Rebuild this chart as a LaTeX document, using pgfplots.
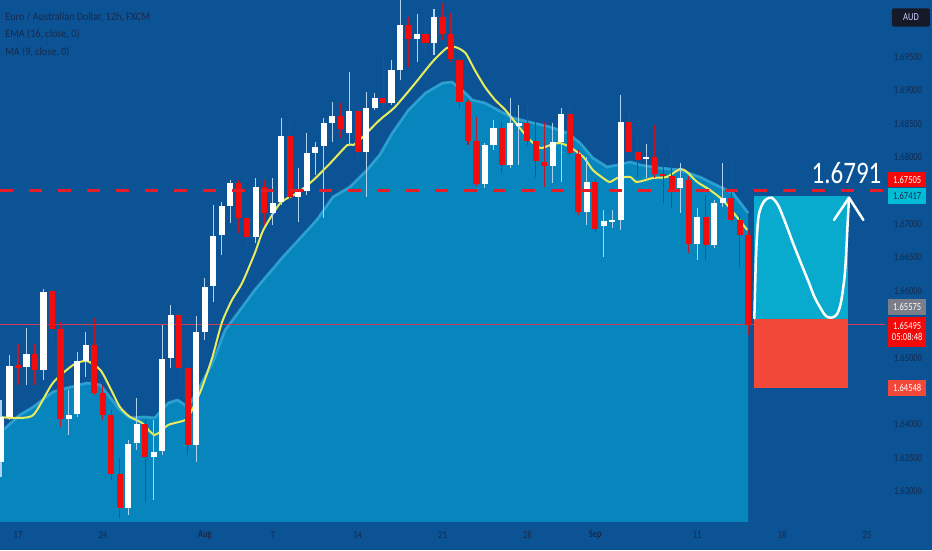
\documentclass[border=0pt]{standalone}
\usepackage{fontspec}
\setmainfont{Carlito}
\usepackage{graphicx}
\usepackage{pgfplots}
\usepackage{pgfplotstable}
\pgfplotsset{compat=1.18}

\definecolor{bg}{RGB}{11,83,148}
\definecolor{areablue}{RGB}{6,134,188}
\definecolor{areaedge}{RGB}{52,168,216}
\definecolor{candlered}{RGB}{242,12,12}
\definecolor{wickred}{RGB}{190,25,40}
\definecolor{wickwhite}{RGB}{175,210,238}
\definecolor{emayellow}{RGB}{232,236,92}
\definecolor{dashred}{RGB}{230,28,38}
\definecolor{thinred}{RGB}{205,60,85}
\definecolor{boxcyan}{RGB}{8,170,205}
\definecolor{boxcoral}{RGB}{242,72,58}
\definecolor{lblred}{RGB}{245,8,8}
\definecolor{lblcyan}{RGB}{0,188,212}
\definecolor{lblgrey}{RGB}{122,126,136}
\definecolor{audbox}{RGB}{22,26,40}
\definecolor{ticktext}{RGB}{22,42,78}

\newcommand{\sq}[2][0.8]{\scalebox{#1}[1]{#2}}

% 12h candles, x = bar number
\pgfplotstableread{
i o h l c
0 1.63441 1.64365 1.63212 1.64115
1 1.64115 1.65039 1.64066 1.64879
3 1.64855 1.65443 1.64590 1.65049
5 1.64814 1.66027 1.64664 1.65986
8 1.64085 1.64515 1.63841 1.64141
9 1.64151 1.65088 1.64115 1.64949
10 1.64954 1.65388 1.64714 1.65184
15 1.62744 1.63766 1.62644 1.63706
16 1.63717 1.64391 1.63617 1.64006
18 1.63516 1.64066 1.62868 1.63591
19 1.63602 1.65488 1.63542 1.64979
20 1.64989 1.65787 1.64840 1.65638
23 1.63691 1.65627 1.63441 1.65379
24 1.65388 1.66187 1.65263 1.66061
25 1.66072 1.67284 1.65837 1.66820
26 1.66835 1.67334 1.66536 1.67269
27 1.67274 1.67658 1.67010 1.67609
30 1.66813 1.67684 1.66711 1.67558
32 1.67169 1.67684 1.66985 1.67319
33 1.67334 1.68582 1.67284 1.68317
35 1.67399 1.67834 1.67034 1.67483
36 1.67498 1.68367 1.67434 1.68058
37 1.68067 1.68232 1.67733 1.68157
38 1.68167 1.68587 1.67085 1.68507
39 1.68516 1.68831 1.68232 1.68617
41 1.68367 1.69280 1.68182 1.68696
43 1.68082 1.68980 1.67408 1.68732
44 1.68741 1.68965 1.68706 1.68882
46 1.68807 1.69455 1.68781 1.69305
47 1.69305 1.70400 1.69155 1.69979
49 1.69765 1.70143 1.69429 1.69840
51 1.69705 1.70214 1.69530 1.70103
57 1.67599 1.68212 1.67534 1.68182
58 1.68182 1.68557 1.68108 1.68441
60 1.67883 1.68881 1.67838 1.68516
61 1.68471 1.68781 1.67883 1.68516
65 1.67868 1.68507 1.67609 1.68223
66 1.68232 1.68732 1.67633 1.68646
69 1.67184 1.68007 1.66985 1.67624
71 1.66974 1.67209 1.66510 1.67049
72 1.67037 1.67209 1.66940 1.67060
73 1.67060 1.68931 1.66910 1.68531
76 1.67968 1.68197 1.67684 1.68007
80 1.67534 1.67908 1.67160 1.67688
82 1.66700 1.67235 1.66461 1.67100
84 1.66685 1.67359 1.66640 1.67310
85 1.67319 1.67917 1.67259 1.67384
}\up

\pgfplotstableread{
i o h l c
2 1.64882 1.65203 1.64590 1.64849
4 1.65049 1.65203 1.64590 1.64814
6 1.65997 1.66012 1.65188 1.65423
7 1.65423 1.65537 1.63965 1.64085
11 1.65184 1.65588 1.64440 1.64474
12 1.64474 1.64590 1.64066 1.64136
13 1.64136 1.64215 1.63167 1.63257
14 1.63257 1.63497 1.62599 1.62744
17 1.64006 1.64066 1.62823 1.63516
21 1.65638 1.65712 1.64664 1.64840
22 1.64840 1.64964 1.63542 1.63691
28 1.67609 1.67658 1.66865 1.67085
29 1.67085 1.67135 1.66685 1.66810
31 1.67558 1.67658 1.66985 1.67169
34 1.68317 1.68546 1.67359 1.67399
40 1.68621 1.68807 1.68283 1.68417
42 1.68696 1.68736 1.67983 1.68082
45 1.68882 1.69530 1.68706 1.68807
48 1.69979 1.70099 1.69355 1.69765
50 1.69840 1.70054 1.69504 1.69705
52 1.70103 1.70308 1.69754 1.69840
53 1.69840 1.70154 1.69425 1.69465
54 1.69455 1.69485 1.68732 1.68831
55 1.68831 1.68856 1.68182 1.68247
56 1.68247 1.68606 1.67569 1.67599
59 1.68441 1.68531 1.67759 1.67883
62 1.68516 1.68807 1.68182 1.68247
63 1.68247 1.68531 1.67708 1.67947
64 1.67932 1.68531 1.67558 1.67868
67 1.68646 1.68781 1.68033 1.68067
68 1.68048 1.68108 1.67135 1.67184
70 1.67624 1.67688 1.66880 1.66920
74 1.68531 1.68736 1.68033 1.68082
75 1.68082 1.68332 1.67708 1.67958
77 1.68007 1.68482 1.67688 1.67744
78 1.67744 1.67932 1.67310 1.67718
79 1.67723 1.68133 1.67235 1.67524
81 1.67658 1.67718 1.66561 1.66700
83 1.67109 1.67434 1.66461 1.66685
86 1.67384 1.67958 1.67030 1.67060
87 1.67060 1.67135 1.66361 1.66835
88 1.66835 1.66910 1.65338 1.65495
}\down

\begin{document}
\begin{tikzpicture}
\fill[bg] (0,0) rectangle (699pt,412.5pt);
\begin{axis}[
  at={(0pt,21.4pt)}, anchor=south west,
  scale only axis, width=663.75pt, height=391.1pt,
  xmin=-0.12, xmax=104.12, ymin=1.62546, ymax=1.70353,
  clip mode=individual,
  axis line style={draw=none},
  major tick length=0pt,
  xtick={2,12,24,32,42,52,62,70,82,92,102},
  xticklabels={\sq{17},\sq{24},\sq{\bfseries Aug},\sq{7},\sq{14},\sq{21},\sq{28},\sq{\bfseries Sep},\sq{11},\sq{18},\sq{25}},
  xticklabel style={anchor=center, yshift=-10.1pt, inner sep=0pt, text=ticktext, font=\fontsize{8}{9}\selectfont},
  ytick={1.630,1.635,1.640,1.650,1.660,1.665,1.670,1.680,1.685,1.690,1.695},
  yticklabels={\sq{1.63000},\sq{1.63500},\sq{1.64000},\sq{1.65000},\sq{1.66000},\sq{1.66500},\sq{1.67000},\sq{1.68000},\sq{1.68500},\sq{1.69000},\sq{1.69500}},
  yticklabel pos=right,
  yticklabel style={anchor=center, xshift=17.25pt, inner sep=0pt, text=ticktext, font=\fontsize{8}{9}\selectfont},
]

% shaded area under the averages
\addplot[fill=areablue, draw=none] coordinates {
(-0.12,1.62) (-0.12,1.63871) (2.2,1.64140) (3.8,1.64260) (6.1,1.64485) (7.8,1.64545)
(10.1,1.64619) (11.7,1.64590) (12.8,1.64410) (14.0,1.64215) (15.2,1.64096) (16.9,1.64111)
(18.1,1.64096) (19.7,1.64320) (20.8,1.64365) (22.0,1.64260) (23.2,1.64515) (24.9,1.64919)
(26.4,1.65413) (27.9,1.65667) (29.9,1.66012) (33.2,1.66506) (37.2,1.67060) (39.1,1.67404)
(41.1,1.67554) (43.1,1.67808) (44.6,1.68033) (46.1,1.68362) (48.0,1.68706) (50.0,1.68961)
(52.0,1.69110) (53.1,1.69125) (54.3,1.69006) (55.5,1.68856) (57.0,1.68811) (59.4,1.68646)
(60.3,1.68587) (62.7,1.68512) (64.7,1.68452) (66.7,1.68362) (68.2,1.68212) (69.7,1.67988)
(71.4,1.67853) (72.6,1.67883) (74.1,1.67928) (75.3,1.67883) (77.6,1.67838) (80.0,1.67808)
(82.3,1.67703) (84.7,1.67554) (86.2,1.67464) (88,1.67164) (88,1.62)} -- cycle;
\addplot[areaedge, line width=2pt, opacity=0.85, line join=round] coordinates {
(-0.12,1.63871) (2.2,1.64140) (3.8,1.64260) (6.1,1.64485) (7.8,1.64545)
(10.1,1.64619) (11.7,1.64590) (12.8,1.64410) (14.0,1.64215) (15.2,1.64096) (16.9,1.64111)
(18.1,1.64096) (19.7,1.64320) (20.8,1.64365) (22.0,1.64260) (23.2,1.64515) (24.9,1.64919)
(26.4,1.65413) (27.9,1.65667) (29.9,1.66012) (33.2,1.66506) (37.2,1.67060) (39.1,1.67404)
(41.1,1.67554) (43.1,1.67808) (44.6,1.68033) (46.1,1.68362) (48.0,1.68706) (50.0,1.68961)
(52.0,1.69110) (53.1,1.69125) (54.3,1.69006) (55.5,1.68856) (57.0,1.68811) (59.4,1.68646)
(60.3,1.68587) (62.7,1.68512) (64.7,1.68452) (66.7,1.68362) (68.2,1.68212) (69.7,1.67988)
(71.4,1.67853) (72.6,1.67883) (74.1,1.67928) (75.3,1.67883) (77.6,1.67838) (80.0,1.67808)
(82.3,1.67703) (84.7,1.67554) (86.2,1.67464) (88,1.67164)};

% current price line
\addplot[thinred, line width=0.6pt] coordinates {(-0.12,1.65495) (104.12,1.65495)};

% MA line
\addplot[emayellow, line width=1.5pt, smooth, tension=0.4] coordinates {
(-0.12,1.64111) (1.4,1.64096) (3.8,1.64140) (6.1,1.64619) (8.5,1.64889) (10.1,1.64949)
(11.7,1.64814) (12.8,1.64560) (14.0,1.64260) (15.2,1.64111) (16.6,1.64021) (18.1,1.63841)
(19.7,1.63991) (21.7,1.64066) (22.5,1.64215) (23.7,1.64560) (24.9,1.65009) (26.0,1.65518)
(27.2,1.65862) (28.4,1.66116) (29.9,1.66566) (30.9,1.66910) (32.9,1.67314) (34.9,1.67464)
(36.8,1.67658) (38.8,1.67913) (40.8,1.68182) (41.5,1.68182) (42.6,1.68302) (44.6,1.68557)
(46.4,1.68751) (48.8,1.69110) (50.8,1.69425) (52.5,1.69634) (53.5,1.69649) (54.7,1.69560)
(55.8,1.69305) (57.0,1.69051) (58.2,1.68856) (59.4,1.68706) (61.1,1.68437) (62.3,1.68257)
(63.5,1.68137) (64.7,1.68182) (65.8,1.68212) (67.0,1.68152) (68.6,1.68003) (69.7,1.67808)
(70.9,1.67688) (71.7,1.67628) (72.6,1.67688) (74.1,1.67703) (74.9,1.67628) (76.8,1.67688)
(78.4,1.67703) (80.0,1.67823) (80.8,1.67778) (82.0,1.67628) (83.5,1.67509) (85.0,1.67359)
(86.2,1.67179) (87.9,1.66910)};

% wicks
\addplot[draw=none, mark=none, error bars/.cd, y dir=both, y explicit, error mark=none,
  error bar style={draw=wickwhite, line width=0.8pt}]
  table[x=i, y expr={(\thisrow{h}+\thisrow{l})/2}, y error expr={(\thisrow{h}-\thisrow{l})/2}] {\up};
\addplot[draw=none, mark=none, error bars/.cd, y dir=both, y explicit, error mark=none,
  error bar style={draw=wickred, line width=0.8pt}]
  table[x=i, y expr={(\thisrow{h}+\thisrow{l})/2}, y error expr={(\thisrow{h}-\thisrow{l})/2}] {\down};
% bodies
\addplot[draw=none, mark=none, error bars/.cd, y dir=both, y explicit, error mark=none,
  error bar style={draw=white, line width=4.6pt}]
  table[x=i, y expr={(\thisrow{o}+\thisrow{c})/2}, y error expr={max(abs(\thisrow{c}-\thisrow{o})/2,0.00008)}] {\up};
\addplot[draw=none, mark=none, error bars/.cd, y dir=both, y explicit, error mark=none,
  error bar style={draw=candlered, line width=4.6pt}]
  table[x=i, y expr={(\thisrow{o}+\thisrow{c})/2}, y error expr={max(abs(\thisrow{c}-\thisrow{o})/2,0.00008)}] {\down};

% target level
\addplot[dashred, line width=2.25pt, dash pattern=on 9.75pt off 12pt] coordinates {(-0.12,1.675) (104.12,1.675)};

% long position: profit and loss zones
\addplot[fill=boxcoral, draw=none] coordinates {(88.73,1.64548) (99.8,1.64548) (99.8,1.65575) (88.73,1.65575)} -- cycle;
\addplot[fill=boxcyan, draw=none] coordinates {(88.73,1.65575) (99.8,1.65575) (99.8,1.67417) (88.73,1.67417)} -- cycle;

% expected path
\addplot[white, line width=1.9pt, smooth, tension=0.5, line cap=round] coordinates {
(88.73,1.65588) (88.93,1.66536) (89.20,1.67090) (89.63,1.67284) (90.10,1.67367) (90.77,1.67393)
(91.52,1.67284) (92.34,1.67034) (93.28,1.66715) (94.31,1.66386) (95.17,1.66117) (95.87,1.65892)
(97.05,1.65637) (97.84,1.65597) (98.47,1.65652) (98.94,1.65832) (99.41,1.66286) (99.73,1.67034)
(99.88,1.67393)};
\addplot[white, line width=1.9pt, line cap=round, line join=round] coordinates {(98.11,1.67060) (99.88,1.67393) (101.57,1.67060)};

\node[anchor=base east, inner sep=0pt, text=white, font=\fontsize{23.5}{26}\selectfont] at (axis cs:103.73,1.67613) {\sq{1.6791}};

% legend
\node[anchor=base west, inner sep=0pt, text=ticktext, font=\fontsize{8.5}{10}\selectfont] at (axis cs:0.47,1.70048) {\sq[0.9]{Euro / Australian Dollar, 12h, FXCM}};
\node[anchor=base west, inner sep=0pt, text=ticktext, font=\fontsize{8.5}{10}\selectfont] at (axis cs:0.47,1.69789) {\sq[0.9]{EMA (16, close, 0)}};
\node[anchor=base west, inner sep=0pt, text=ticktext, font=\fontsize{8.5}{10}\selectfont] at (axis cs:0.47,1.69524) {\sq[0.9]{MA (9, close, 0)}};

% price scale labels
\begin{scope}[every node/.style={inner sep=0pt, minimum width=28.5pt, minimum height=11.8pt, anchor=west, font=\fontsize{8}{9}\selectfont}]
\node[fill=audbox, text=white!80!blue, rounded corners=1.5pt, minimum height=13.8pt, anchor=center] at (axis cs:107.18,1.70091) {\sq{AUD}};
\node[fill=lblred, text=white] at (axis cs:104.47,1.67666) {\sq{1.67505}};
\node[fill=lblcyan, text=ticktext] at (axis cs:104.47,1.67416) {\sq{1.67417}};
\node[fill=lblgrey, text=white] at (axis cs:104.47,1.65754) {\sq{1.65575}};
\node[fill=lblred, text=white, minimum height=22.5pt, align=center] at (axis cs:104.47,1.65387) {\sq{1.65495}\\[-1pt]\sq{05:08:48}};
\node[fill=boxcoral, text=white] at (axis cs:104.47,1.64545) {\sq{1.64548}};
\end{scope}
\end{axis}
\pgfresetboundingbox
\useasboundingbox (0,0) rectangle (699pt,412.5pt);
\end{tikzpicture}
\end{document}
